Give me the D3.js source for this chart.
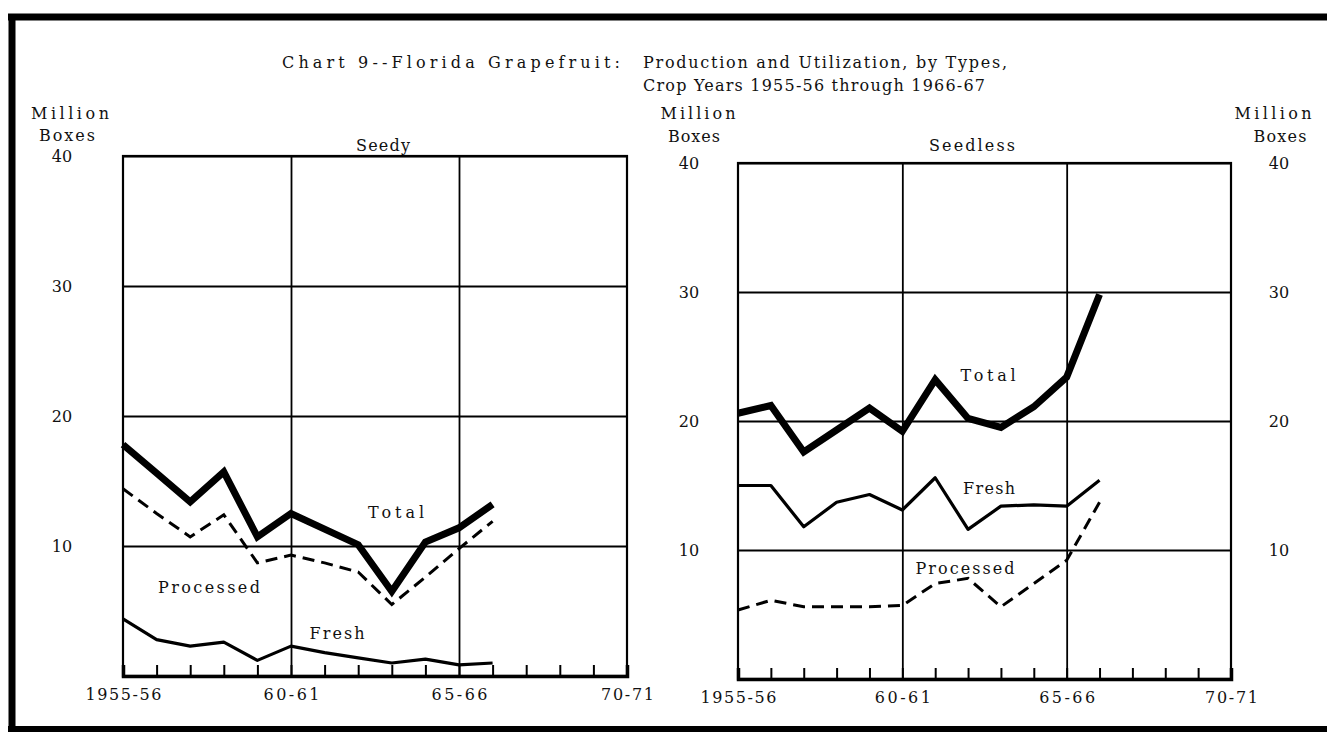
<!DOCTYPE html>
<html>
<head>
<meta charset="utf-8">
<script src="https://cdn.jsdelivr.net/npm/d3@7"></script>
<style>
  html, body { margin: 0; padding: 0; background: #fff; }
  text { font-family: "DejaVu Serif", "Liberation Serif", serif; fill: #111; }
</style>
</head>
<body>
<svg id="chart" width="1327" height="736"></svg>
<script>
// ---- Data ----
const years = ["1955-56","1956-57","1957-58","1958-59","1959-60","1960-61","1961-62","1962-63","1963-64","1964-65","1965-66","1966-67"];
const yearStart = [1955,1956,1957,1958,1959,1960,1961,1962,1963,1964,1965,1966];

const seedyTotal     = [17.8, 15.6, 13.4, 15.7, 10.7, 12.5, 11.3, 10.1, 6.5, 10.3, 11.4, 13.2];
const seedyProcessed = [14.4, 12.5, 10.7, 12.4, 8.7, 9.3, 8.7, 8.0, 5.5, 7.6, 9.8, 11.9];
const seedyFresh     = [4.4, 2.8, 2.3, 2.6, 1.2, 2.3, 1.8, 1.4, 1.0, 1.3, 0.85, 1.0];

const seedlessTotal     = [20.6, 21.2, 17.6, 19.3, 21.0, 19.2, 23.2, 20.2, 19.5, 21.1, 23.4, 29.8];
const seedlessFresh     = [15.0, 15.0, 11.8, 13.7, 14.3, 13.1, 15.6, 11.6, 13.4, 13.5, 13.4, 15.4];
const seedlessProcessed = [5.35, 6.1, 5.6, 5.6, 5.6, 5.7, 7.4, 7.8, 5.6, 7.4, 9.2, 13.7];

const yTicks = [10, 20, 30, 40];
const xTickYears = [1955,1956,1957,1958,1959,1960,1961,1962,1963,1964,1965,1966,1967,1968,1969,1970];
const xTickLabels = {1955: "1955-56", 1960: "60-61", 1965: "65-66", 1970: "70-71"};

const titleLine1a = "Chart 9--Florida Grapefruit:";
const titleLine1b = "Production and Utilization, by Types,";
const titleLine2  = "Crop Years 1955-56 through 1966-67";

// ---- Drawing ----
const svg = d3.select("#chart");
const FS = 16;

// outer frame (top, left, bottom)
svg.append("line").attr("x1", 8).attr("x2", 1327).attr("y1", 17).attr("y2", 17)
  .attr("stroke", "#000").attr("stroke-width", 7);
svg.append("line").attr("x1", 12).attr("x2", 12).attr("y1", 14).attr("y2", 732)
  .attr("stroke", "#000").attr("stroke-width", 7);
svg.append("line").attr("x1", 8).attr("x2", 1327).attr("y1", 729).attr("y2", 729)
  .attr("stroke", "#000").attr("stroke-width", 6);

function fitText(sel, width) {
  if (width) sel.attr("textLength", width).attr("lengthAdjust", "spacing");
  return sel;
}

// titles
fitText(svg.append("text").attr("x", 282).attr("y", 62).attr("dy", "0.35em").attr("font-size", FS).text(titleLine1a), 338);
fitText(svg.append("text").attr("x", 643).attr("y", 62).attr("dy", "0.35em").attr("font-size", FS).text(titleLine1b), 364);
fitText(svg.append("text").attr("x", 643).attr("y", 85).attr("dy", "0.35em").attr("font-size", FS).text(titleLine2), 342);

function label(x, y, t, width) {
  const s = svg.append("text").attr("x", x - width / 2).attr("y", y).attr("dy", "0.35em")
    .attr("font-size", FS).text(t);
  return fitText(s, width);
}

const xLabelWidth = {1955: 76, 1960: 56, 1965: 56, 1970: 53};

function panel(cfg) {
  const x = d3.scaleLinear().domain([1955, 1970]).range([cfg.x0, cfg.x1]);
  const y = d3.scaleLinear().domain([0, 40]).range([cfg.y0, cfg.y1]);
  const g = svg.append("g");
  const w = cfg.x1 - cfg.x0, h = cfg.y0 - cfg.y1;

  // horizontal grid + left tick labels
  const gy = g.append("g").attr("transform", `translate(${cfg.x0},0)`)
    .call(d3.axisLeft(y).tickValues(yTicks).tickSize(-w).tickFormat(d3.format("d")));
  gy.select(".domain").remove();
  gy.selectAll(".tick line").attr("stroke", "#000").attr("stroke-width", 2);
  gy.selectAll(".tick text").attr("x", -cfg.leftLabelOffset).attr("text-anchor", "middle")
    .attr("font-size", FS).attr("font-family", "DejaVu Serif").attr("fill", "#111");

  if (cfg.rightLabels) {
    const gr = g.append("g").attr("transform", `translate(${cfg.x1},0)`)
      .call(d3.axisRight(y).tickValues(yTicks).tickSize(0).tickFormat(d3.format("d")));
    gr.select(".domain").remove();
    gr.selectAll(".tick text").attr("x", cfg.rightLabelOffset).attr("text-anchor", "middle")
      .attr("font-size", FS).attr("font-family", "DejaVu Serif").attr("fill", "#111");
  }

  // vertical grid lines at 60-61 and 65-66
  const gv = g.append("g").attr("transform", `translate(0,${cfg.y0})`)
    .call(d3.axisBottom(x).tickValues([1960, 1965]).tickSize(-h).tickFormat(""));
  gv.select(".domain").remove();
  gv.selectAll(".tick line").attr("stroke", "#000").attr("stroke-width", 1.8);

  // bottom axis with inward ticks
  const gx = g.append("g").attr("transform", `translate(0,${cfg.y0})`)
    .call(d3.axisBottom(x).tickValues(xTickYears).tickSize(-11).tickPadding(13)
      .tickFormat(d => xTickLabels[d] || ""));
  gx.select(".domain").attr("stroke", "#000").attr("stroke-width", 3.5);
  gx.selectAll(".tick line").attr("stroke", "#000").attr("stroke-width", 2);
  gx.selectAll(".tick text").attr("font-size", FS).attr("font-family", "DejaVu Serif").attr("fill", "#111")
    .each(function(d) { if (xLabelWidth[d]) d3.select(this).attr("textLength", xLabelWidth[d]).attr("lengthAdjust", "spacing"); });

  // frame
  g.append("rect").attr("x", cfg.x0).attr("y", cfg.y1).attr("width", w).attr("height", h)
    .attr("fill", "none").attr("stroke", "#000").attr("stroke-width", 2.2);

  const line = d3.line().x((d, i) => x(yearStart[i])).y(d => y(d));

  g.append("path").datum(cfg.processed).attr("d", line).attr("fill", "none")
    .attr("stroke", "#000").attr("stroke-width", 3).attr("stroke-dasharray", "12,7");
  g.append("path").datum(cfg.fresh).attr("d", line).attr("fill", "none")
    .attr("stroke", "#000").attr("stroke-width", 3.2).attr("stroke-linejoin", "round");
  g.append("path").datum(cfg.total).attr("d", line).attr("fill", "none")
    .attr("stroke", "#000").attr("stroke-width", 7).attr("stroke-linejoin", "miter");
}

panel({
  x0: 123, x1: 627, y0: 676, y1: 156, leftLabelOffset: 61,
  total: seedyTotal, processed: seedyProcessed, fresh: seedyFresh
});
panel({
  x0: 738, x1: 1231, y0: 679, y1: 163, leftLabelOffset: 49, rightLabels: true, rightLabelOffset: 48,
  total: seedlessTotal, processed: seedlessProcessed, fresh: seedlessFresh
});

// axis unit labels
label(70, 113, "Million", 78); label(67, 135, "Boxes", 56);
label(698, 113, "Million", 75); label(694, 136, "Boxes", 52);
label(1273, 113, "Million", 77); label(1280, 136, "Boxes", 53);

// panel titles
label(383, 145, "Seedy", 54);
label(972, 145, "Seedless", 86);

// series labels
label(396, 512, "Total", 56);
label(209, 587, "Processed", 102);
label(337, 633, "Fresh", 55);
label(988, 375, "Total", 55);
label(989, 488, "Fresh", 52);
label(965, 568, "Processed", 99);
</script>
</body>
</html>
